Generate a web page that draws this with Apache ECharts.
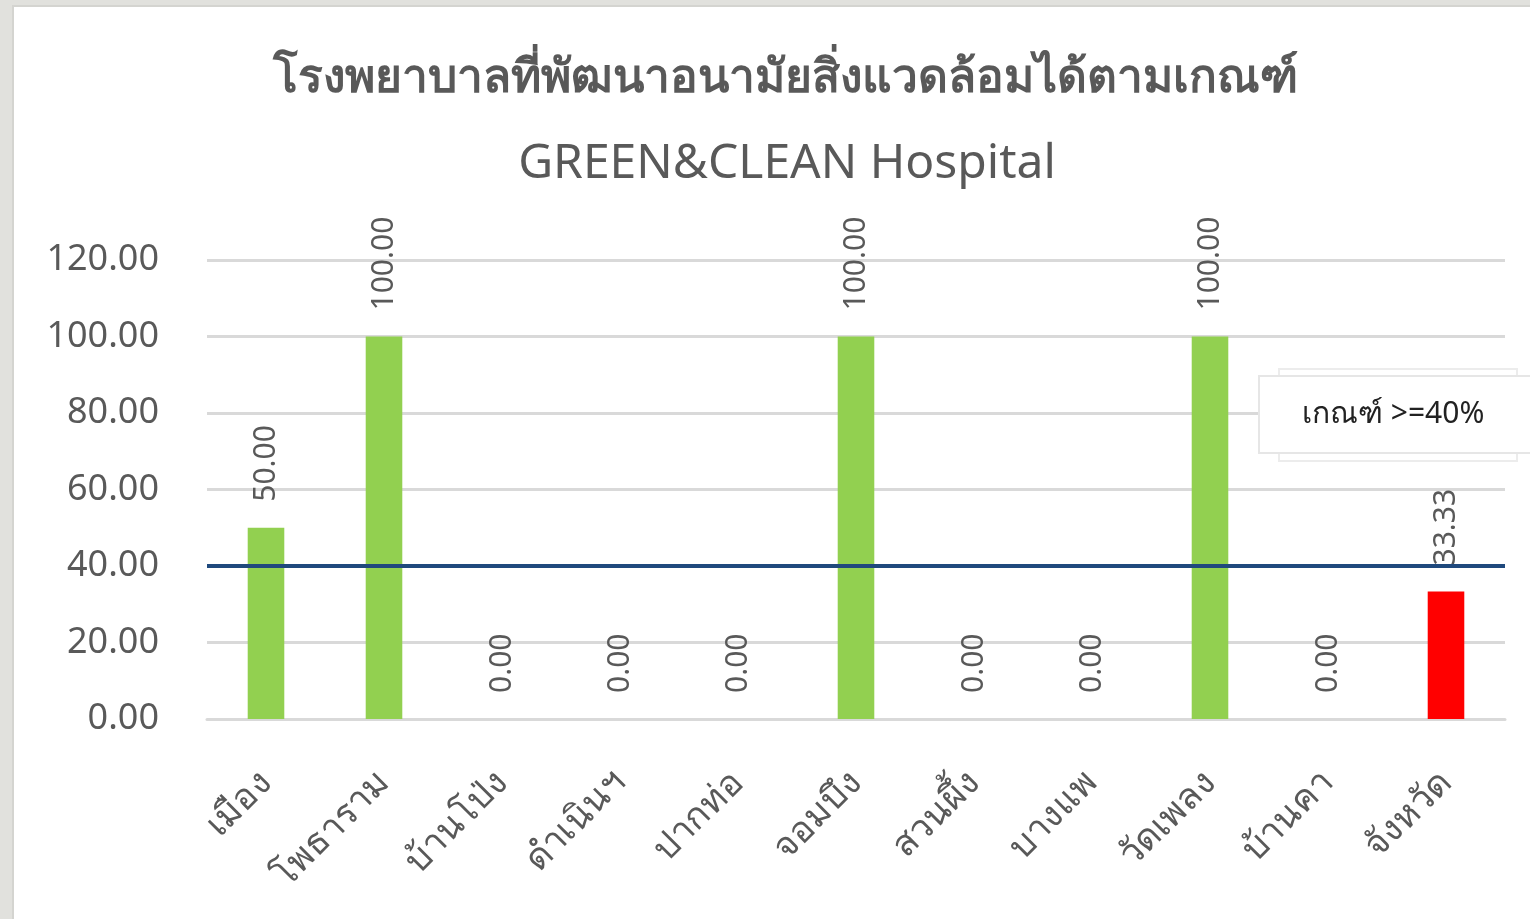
<!DOCTYPE html>
<html>
<head>
<meta charset="utf-8">
<script src="https://cdn.jsdelivr.net/npm/echarts@6/dist/echarts.min.js"></script>
<style>
  html, body { margin: 0; padding: 0; background: #e1e1dd; }
  #frame { position: absolute; left: 12px; top: 5px; width: 1518px; height: 914px; background: #ffffff; border-left: 2px solid #d4d4d0; border-top: 2px solid #d4d4d0; box-sizing: border-box; }
  #chart { width: 100%; height: 100%; }
</style>
</head>
<body>
<div id="frame"><div id="chart"></div></div>
<script>
var categories = ['เมือง', 'โพธาราม', 'บ้านโป่ง', 'ดำเนินฯ', 'ปากท่อ', 'จอมบึง', 'สวนผึ้ง', 'บางแพ', 'วัดเพลง', 'บ้านคา', 'จังหวัด'];
var values = [50, 100, 0, 0, 0, 100, 0, 0, 100, 0, 33.33];
var target = 40;
var yTicks = { min: 0, max: 120, interval: 20 };

var passColor = '#92d050';
var failColor = '#ff0000';
var textColor = '#595959';
var font = '"Noto Sans", "Open Sans", sans-serif';

var myChart = echarts.init(document.getElementById('chart'));
var option = {
    animation: false,
    title: [{
        text: 'โรงพยาบาลที่พัฒนาอนามัยสิ่งแวดล้อมได้ตามเกณฑ์',
        left: 766, top: 44, textAlign: 'center',
        textStyle: { color: textColor, fontSize: 46, fontWeight: 'bold', fontFamily: font }
    }, {
        text: 'GREEN&CLEAN Hospital',
        left: 768, top: 128, textAlign: 'center',
        textStyle: { color: textColor, fontSize: 48, fontWeight: 'normal', fontFamily: font }
    }],
    grid: { left: 193, right: 25, top: 253, bottom: 200 },
    xAxis: {
        type: 'category',
        data: categories,
        axisLine: { lineStyle: { color: '#d9d9d9', width: 3 } },
        axisTick: { show: false },
        axisLabel: { rotate: 45, margin: 58, color: textColor, fontSize: 36, fontFamily: font, interval: 0 }
    },
    yAxis: {
        type: 'value',
        min: yTicks.min, max: yTicks.max, interval: yTicks.interval,
        axisLine: { show: false },
        axisTick: { show: false },
        splitLine: { lineStyle: { color: '#d9d9d9', width: 3 } },
        axisLabel: {
            margin: 48, color: textColor, fontSize: 36, fontFamily: font, padding: [8, 0, 0, 0],
            formatter: function (v) { return v.toFixed(2); }
        }
    },
    graphic: [{
        type: 'rect', left: 1264, top: 361, z: 100,
        shape: { width: 238, height: 92 },
        style: { fill: '#ffffff', stroke: '#ececec', lineWidth: 2 }
    }, {
        type: 'rect', left: 1244, top: 368, z: 101,
        shape: { width: 280, height: 77 },
        style: { fill: '#ffffff', stroke: '#e6e6e6', lineWidth: 2 }
    }, {
        type: 'text', left: 1288, top: 392, z: 102,
        style: { text: 'เกณฑ์ >=40%', fill: '#222222', fontSize: 30, fontFamily: font }
    }],
    series: [{
        type: 'bar',
        barWidth: '31%',
        data: values.map(function (v) {
            return { value: v, itemStyle: { color: v >= target ? passColor : failColor } };
        }),
        label: {
            show: true, position: 'top', rotate: 90, align: 'left', verticalAlign: 'middle',
            distance: 26, color: textColor, fontSize: 30, fontFamily: font,
            formatter: function (p) { return p.value.toFixed(2); }
        },
        markLine: {
            silent: true, symbol: 'none',
            label: { show: false },
            lineStyle: { color: '#1f497d', width: 4, type: 'solid' },
            data: [{ yAxis: target }]
        }
    }]
};
myChart.setOption(option);
</script>
</body>
</html>
